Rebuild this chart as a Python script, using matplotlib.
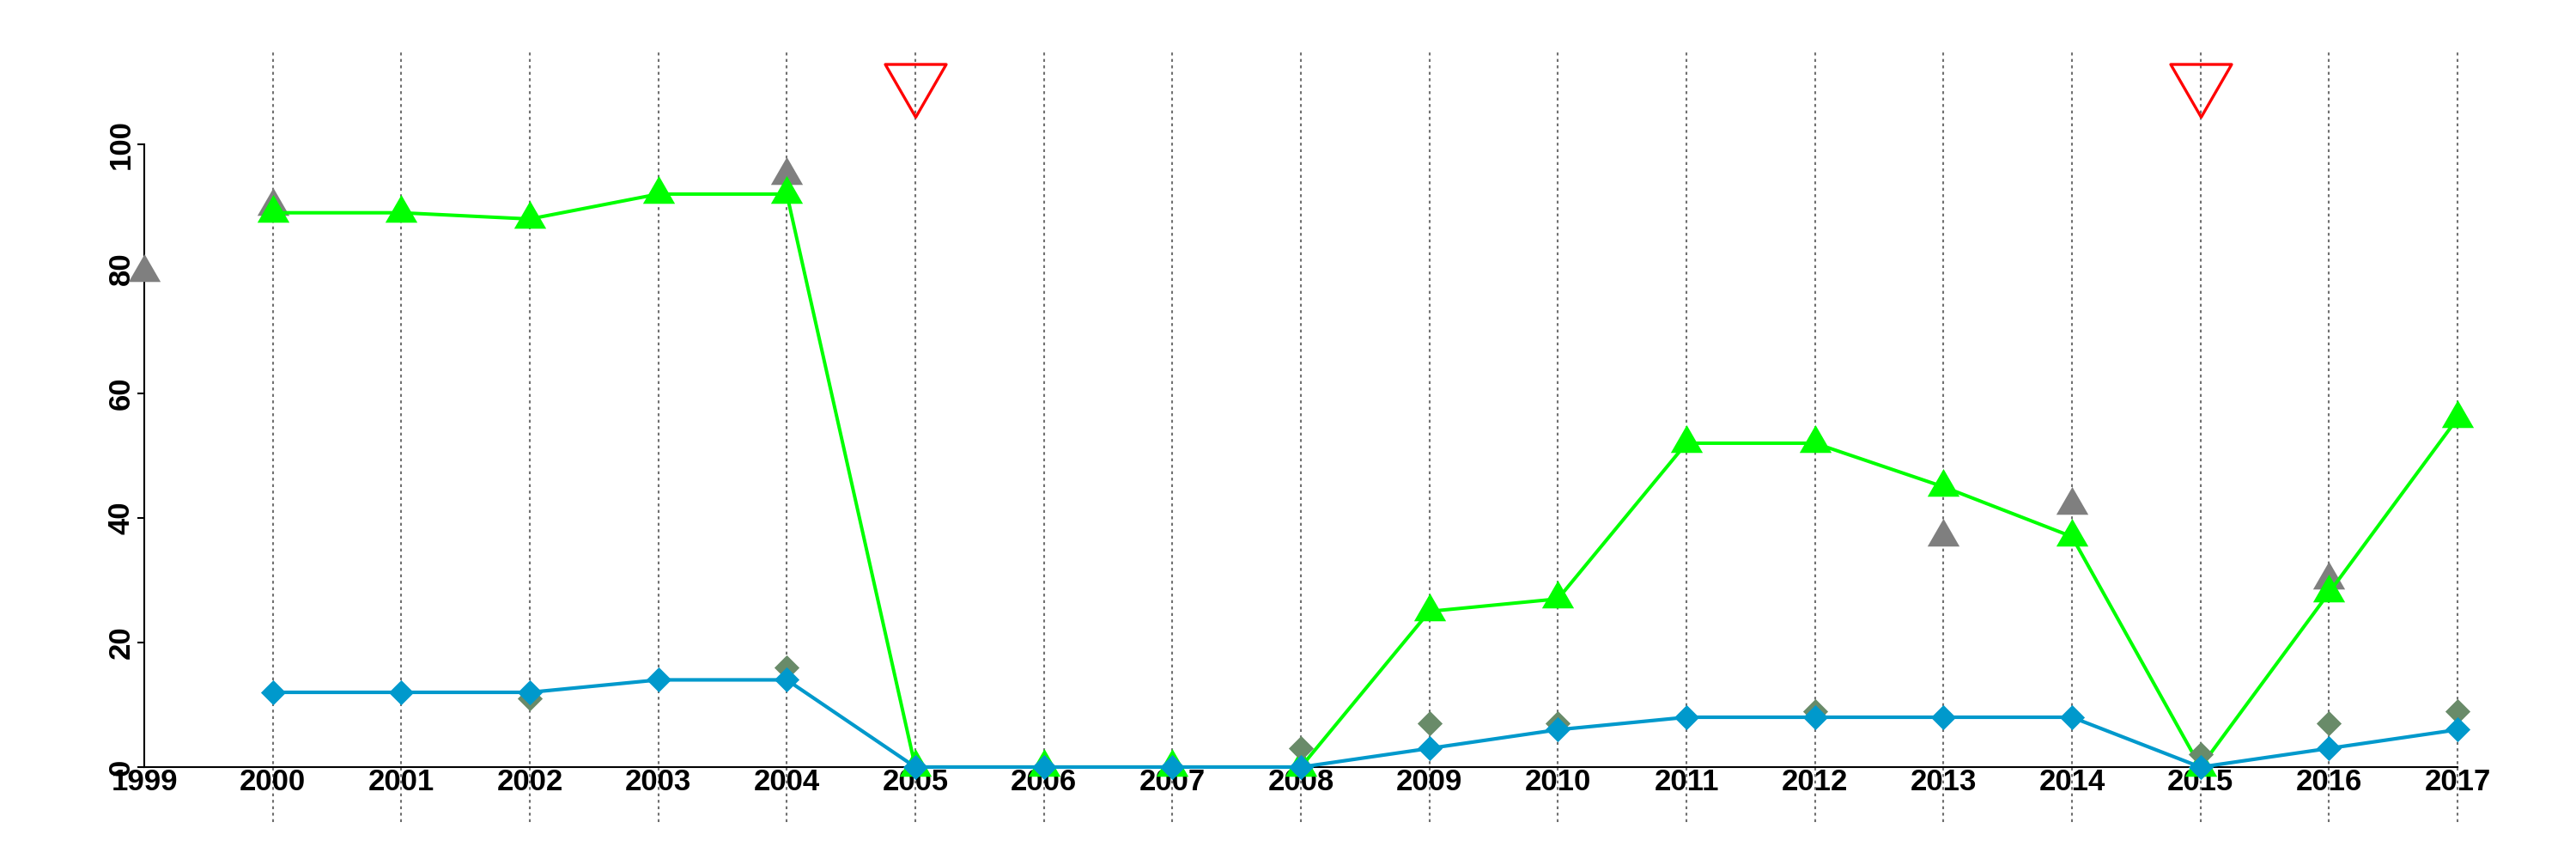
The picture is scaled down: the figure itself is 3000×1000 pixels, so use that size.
import numpy as np
import matplotlib
matplotlib.use('Agg')
import matplotlib.pyplot as plt
from matplotlib.path import Path

# Data
years = list(range(2000, 2018))
green_vals = [89, 89, 88, 92, 92, 0, 0, 0, 0, 25, 27, 52, 52, 45, 37, 0, 28, 56]
blue_vals = [12, 12, 12, 14, 14, 0, 0, 0, 0, 3, 6, 8, 8, 8, 8, 0, 3, 6]

gray_years = [1999, 2000, 2004, 2013, 2014, 2016]
gray_vals = [79.5, 90, 95, 37, 42, 30]

olive_years = [2002, 2004, 2008, 2009, 2010, 2012, 2015, 2016, 2017]
olive_vals = [11, 16, 3, 7, 7, 9, 2, 7, 9]

red_years = [2005, 2015]
red_vals = [110, 110]

xticks = list(range(1999, 2018))
yticks = [0, 20, 40, 60, 80, 100]

# R-like marker shapes (closed paths)
tri_up = Path([(0, 1), (-0.866, -0.5), (0.866, -0.5), (0, 1)], closed=True)
tri_down = Path([(0, -1), (0.866, 0.5), (-0.866, 0.5), (0, -1)], closed=True)
diamond = Path([(0, 1), (1, 0), (0, -1), (-1, 0), (0, 1)], closed=True)

plt.rcParams['font.family'] = ['Liberation Sans', 'DejaVu Sans']
plt.rcParams['font.weight'] = 'bold'

fig = plt.figure(figsize=(30, 10), dpi=100)
ax = fig.add_axes([168 / 3000, 1 - 957 / 1000, (2862 - 168) / 3000, (957 - 57) / 1000])
ax.set_xlim(1999, 2017)
ax.set_ylim(-8.83, 115.3)

# dotted year guides
ax.vlines(years, -8.83, 115.3, colors='#707070', linewidth=1.5,
          linestyles=(0, (1.6, 2.0)), zorder=1, clip_on=False)

ax.plot(gray_years, gray_vals, linestyle='none', marker=tri_up, ms=31,
        mew=0, color='#7f7f7f', zorder=3, clip_on=False)
ax.plot(years, green_vals, color='#00ff00', lw=2.9, marker=tri_up, ms=31,
        mew=0, zorder=4, clip_on=False)
ax.plot(olive_years, olive_vals, linestyle='none', marker=diamond, ms=21,
        mew=0, color='#698b69', zorder=5, clip_on=False)
ax.plot(years, blue_vals, color='#0099cc', lw=3.0, marker=diamond, ms=21,
        mew=0, zorder=6, clip_on=False)
ax.plot(red_years, red_vals, linestyle='none', marker=tri_down, ms=59,
        mfc='none', mec='#ff0000', mew=2.4, zorder=7, clip_on=False)

for s in ['top', 'right']:
    ax.spines[s].set_visible(False)
ax.spines['left'].set_bounds(0, 100)
ax.spines['bottom'].set_bounds(1999, 2017)
ax.spines['bottom'].set_position(('data', 0))
ax.spines['left'].set_linewidth(1.5)
ax.spines['bottom'].set_linewidth(1.5)
ax.spines['bottom'].set_zorder(2)

ax.set_xticks(xticks)
ax.set_xticklabels([str(x) for x in xticks])
ax.set_yticks(yticks)
ax.set_yticklabels([str(y) for y in yticks], rotation=90, va='center')
ax.tick_params(axis='x', length=0, pad=1.0, labelsize=25)
ax.tick_params(axis='y', length=5.5, width=1.5, pad=2, labelsize=25)

fig.savefig('out.png', dpi=100)
